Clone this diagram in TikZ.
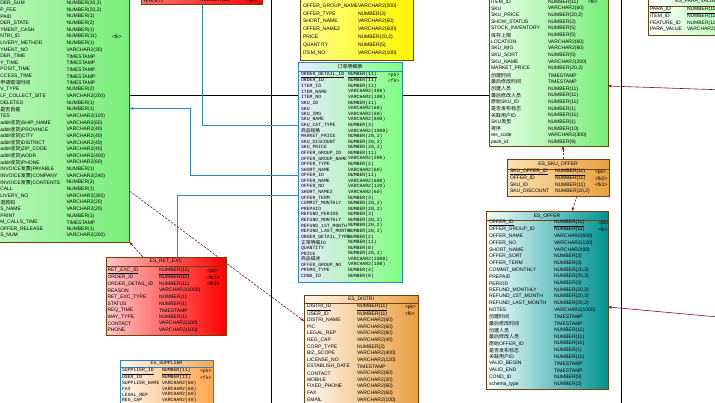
\documentclass[tikz,border=0pt]{standalone}
\usepackage{fontspec}
\setmainfont{Liberation Sans}
\newfontfamily\monofont{Liberation Mono}
\newfontfamily\cjk{Noto Sans CJK SC}
\usetikzlibrary{arrows.meta,calc}
\newcommand\zh[1]{{\cjk #1}}

\definecolor{brn}{HTML}{7A3E0A}
\definecolor{mag}{HTML}{80103F}
\definecolor{blu}{HTML}{2A86C8}
\definecolor{grnA}{HTML}{D4FAD4}
\definecolor{grnB}{HTML}{78EE78}
\definecolor{orA}{HTML}{FBE2B4}
\definecolor{orB}{HTML}{E8A040}

% rows of a table: prefix, style, x name, x type, y first row, row step, x key, list
\newcommand\tabrows[8]{%
  \foreach \nm/\ty/\ky [count=\i from 0] in {#8} {
    \node[#2] (#1-n\i) at (#3, {#5+\i*#6}) {\nm};
    \node[#2] (#1-t\i) at (#4, {#5+\i*#6}) {\ty};
    \node[#2] (#1-k\i) at (#7, {#5+\i*#6}) {\ky};
  }}

\tikzset{
  tbl/.style={rectangle, draw=brn, line width=0.8pt, inner sep=0pt, outer sep=0pt, anchor=north west, shading angle=45},
  btbl/.style={tbl, draw=blu},
  cell/.style={anchor=west, inner sep=0pt, outer sep=0pt, text=black, font=\fontsize{5}{5}\selectfont},
  mcell/.style={cell, font=\monofont\fontsize{4.8}{5}\selectfont},
  ttl/.style={cell, anchor=center},
  mttl/.style={mcell, anchor=center},
  sep/.style={draw=brn, line width=0.6pt},
  bsep/.style={draw=blu, line width=0.6pt},
  tip/.style={-{Stealth[length=4pt,width=3pt]}},
  fkline/.style={draw=mag, line width=0.6pt, dash pattern=on 2.5pt off 1.2pt, tip},
  mgline/.style={draw=mag, line width=0.6pt, tip},
  bl/.style={draw=blu, line width=0.7pt},
  blk/.style={draw=black, line width=0.7pt},
}

\begin{document}
\begin{tikzpicture}[x=1pt,y=-1pt]
\useasboundingbox (0,0) rectangle (715,402);
\clip (0,0) rectangle (715,402);
\fill[white] (0,0) rectangle (715,402);

% long vertical rules
\coordinate (va) at (271,-10);
\coordinate (vb) at (271,420);
\coordinate (vc) at (621.5,-10);
\coordinate (vd) at (621.5,420);
\draw[blk] (va) -- (vb);
\draw[blk] (vc) -- (vd);

% ---------------- order table (left) ----------------
\node[tbl, left color=grnA, right color=grnB, minimum width=189.5pt, minimum height=252pt] (order) at (-60,-10) {};
\tabrows{order}{cell}{0.3}{66.5}{3.3}{6.64}{112}{
 {DER\_SUM}/{NUMBER(20,2)}/{},
 {P\_FEE}/{NUMBER(20,2)}/{},
 {PAID}/{NUMBER(1)}/{},
 {DER\_STATE}/{NUMBER(2)}/{},
 {YMENT\_CASH}/{NUMBER(1)}/{},
 {NTRI\_ID}/{NUMBER(11)}/{<fk>},
 {LIVERY\_METHOD}/{NUMBER(1)}/{},
 {YMENT\_NO}/{VARCHAR2(30)}/{},
 {DER\_TIME}/{TIMESTAMP}/{},
 {Y\_TIME}/{TIMESTAMP}/{},
 {POSIT\_TIME}/{TIMESTAMP}/{},
 {CCESS\_TIME}/{TIMESTAMP}/{},
 {\zh{申请取消时间}}/{TIMESTAMP}/{},
 {V\_TYPE}/{NUMBER(2)}/{},
 {LF\_COLLECT\_SITE}/{VARCHAR2(200)}/{},
 {DELETED}/{NUMBER(1)}/{},
 {\zh{是否自提}}/{NUMBER(1)}/{},
 {TES}/{VARCHAR2(100)}/{},
 {addr\zh{收货})SHIP\_NAME}/{VARCHAR2(60)}/{},
 {addr\zh{收货})PROVINCE}/{VARCHAR2(40)}/{},
 {addr\zh{收货})CITY}/{VARCHAR2(40)}/{},
 {addr\zh{收货})DISTRICT}/{VARCHAR2(40)}/{},
 {addr\zh{收货})ZIP\_CODE}/{VARCHAR2(40)}/{},
 {addr\zh{收货})ADDR}/{VARCHAR2(400)}/{},
 {addr\zh{收货})PHONE}/{VARCHAR2(60)}/{},
 {INVOICE\zh{发票})PAYABLE}/{NUMBER(1)}/{},
 {INVOICE\zh{发票})COMPANY}/{VARCHAR2(240)}/{},
 {INVOICE\zh{发票})CONTENTS}/{NUMBER(2)}/{},
 {CALL}/{NUMBER(1)}/{},
 {LIVERY\_NO}/{VARCHAR2(300)}/{},
 {\zh{退款码}}/{VARCHAR2(20)}/{},
 {S\_NAME}/{VARCHAR2(20)}/{},
 {PRINT}/{NUMBER(1)}/{},
 {M\_CALLS\_TIME}/{TIMESTAMP}/{},
 {OFFER\_RELEASE}/{NUMBER(1)}/{},
 {S\_NUM}/{VARCHAR2(200)}/{}}

% ---------------- red table (top) ----------------
\node[tbl, left color=red!55, right color=red, minimum width=120.5pt, minimum height=24.5pt] (redtop) at (141.5,-20) {};
\tabrows{redtop}{cell}{143.5}{200}{0.3}{6.6}{247}{
 {\zh{在线支付}}/{NUMBER(11)}/{<fk>}}

% ---------------- yellow table (top) ----------------
\node[tbl, left color=yellow!45, right color=yellow!92!orange, minimum width=113pt, minimum height=80pt] (cart) at (300,-20) {};
\tabrows{cart}{cell}{303}{358}{6}{7.8}{400}{
 {OFFER\_GROUP\_NAME}/{VARCHAR2(200)}/{},
 {OFFER\_TYPE}/{NUMBER(2)}/{},
 {SHORT\_NAME}/{VARCHAR2(60)}/{},
 {OFFER\_NAME2}/{VARCHAR2(600)}/{},
 {PRICE}/{NUMBER(20,2)}/{},
 {QUANTITY}/{NUMBER(5)}/{},
 {ITEM\_NO}/{VARCHAR2(100)}/{}}

% ---------------- order detail table ----------------
\node[btbl, left color=blue!8!white, right color=green!50, minimum width=104.5pt, minimum height=220pt] (detail) at (298,62) {};
\node[ttl] (detail-title) at (350,66.8) {\zh{订单明细表}};
\draw[bsep] (detail.west |- 0,71.5) -- (detail.east |- 0,71.5);
\tabrows{detail}{mcell}{301}{348}{75}{5.58}{388}{
 {\underline{ORDER\_DETAIL\_ID}}/{\underline{NUMBER(11)}}/{<pk>},
 {ORDER\_ID}/{NUMBER(11)}/{<fk>},
 {ITEM\_ID}/{NUMBER(11)}/{},
 {ITEM\_NAME}/{VARCHAR2(400)}/{},
 {ITEM\_NO}/{VARCHAR2(100)}/{},
 {SKU\_ID}/{NUMBER(11)}/{},
 {SKU}/{VARCHAR2(60)}/{},
 {SKU\_IMG}/{VARCHAR2(60)}/{},
 {SKU\_NAME}/{VARCHAR2(800)}/{},
 {SKU\_CAT\_TYPE}/{NUMBER(3)}/{},
 {\zh{商品规格}}/{VARCHAR2(1000)}/{},
 {MARKET\_PRICE}/{NUMBER(20,2)}/{},
 {SKU\_DISCOUNT}/{NUMBER(20,2)}/{},
 {SKU\_PRICE}/{NUMBER(20,2)}/{},
 {OFFER\_GROUP\_ID}/{NUMBER(11)}/{},
 {OFFER\_GROUP\_NAME}/{VARCHAR2(200)}/{},
 {OFFER\_TYPE}/{NUMBER(2)}/{},
 {SHORT\_NAME}/{VARCHAR2(60)}/{},
 {OFFER\_ID}/{NUMBER(11)}/{},
 {OFFER\_NAME}/{VARCHAR2(600)}/{},
 {OFFER\_NO}/{VARCHAR2(120)}/{},
 {SHORT\_NAME2}/{VARCHAR2(60)}/{},
 {OFFER\_TERM}/{NUMBER(3)}/{},
 {COMMIT\_MONTHLY}/{NUMBER(20,2)}/{},
 {PREPAID}/{NUMBER(20,2)}/{},
 {REFUND\_PERIOD}/{NUMBER(3)}/{},
 {REFUND\_MONTHLY}/{NUMBER(20,2)}/{},
 {REFUND\_1ST\_MONTH}/{NUMBER(20,2)}/{},
 {REFUND\_LAST\_MONTH}/{NUMBER(20,2)}/{},
 {ORDER\_DETAIL\_TYPE}/{NUMBER(2)}/{},
 {\zh{正常明细}ID}/{NUMBER(11)}/{},
 {QUANTITY}/{NUMBER(8)}/{},
 {PRICE}/{NUMBER(20,2)}/{},
 {\zh{商品描述}}/{VARCHAR2(2000)}/{},
 {OFFER\_GROUP\_NO}/{VARCHAR2(100)}/{},
 {PROMO\_TYPE}/{NUMBER(4)}/{},
 {COND\_ID}/{NUMBER(8)}/{}}

% ---------------- SKU table ----------------
\node[tbl, left color=green!8, right color=grnB, minimum width=119pt, minimum height=166pt] (sku) at (489,-20) {};
\tabrows{sku}{cell}{491}{548}{2}{6.67}{588}{
 {ITEM\_ID}/{NUMBER(11)}/{<fk>},
 {SKU}/{VARCHAR2(60)}/{},
 {SKU\_PRICE}/{NUMBER(20,2)}/{},
 {SHOW\_STATUS}/{NUMBER(2)}/{},
 {STOCK\_INVENTORY}/{NUMBER(5)}/{},
 {\zh{库存上限}}/{NUMBER(5)}/{},
 {LOCATION}/{VARCHAR2(60)}/{},
 {SKU\_IMG}/{VARCHAR2(60)}/{},
 {SKU\_SORT}/{NUMBER(5)}/{},
 {SKU\_NAME}/{VARCHAR2(200)}/{},
 {MARKET\_PRICE}/{NUMBER(20,2)}/{},
 {\zh{创建时间}}/{TIMESTAMP}/{},
 {\zh{最后修改时间}}/{TIMESTAMP}/{},
 {\zh{创建人员}}/{NUMBER(11)}/{},
 {\zh{最后修改人员}}/{NUMBER(11)}/{},
 {\zh{原始}SKU\_ID}/{NUMBER(11)}/{},
 {\zh{是否发布标志}}/{NUMBER(1)}/{},
 {\zh{关联用户}ID}/{NUMBER(11)}/{},
 {SKU\zh{类型}}/{NUMBER(1)}/{},
 {\zh{排序}}/{NUMBER(10)}/{},
 {res\_code}/{VARCHAR2(300)}/{},
 {pack\_id}/{NUMBER(9)}/{}}

% ---------------- parameter value table (top right) ----------------
\node[tbl, left color=white, right color=green!40, minimum width=112pt, minimum height=39pt] (para) at (648,-4) {};
\node[ttl] (para-title) at (696,1.5) {ES\_PARA\_VALUE};
\draw[sep] (para.west |- 0,6.5) -- (para.east |- 0,6.5);
\tabrows{para}{cell}{650}{687}{10}{6.5}{730}{
 {\underline{PARA\_ID}}/{\underline{NUMBER(11)}}/{<pk>},
 {ITEM\_ID}/{NUMBER(11)}/{<fk1>},
 {FEATURE\_ID}/{NUMBER(11)}/{<fk2>},
 {PARA\_VALUE}/{VARCHAR2(200)}/{}}

% ---------------- ES_SKU_OFFER ----------------
\node[tbl, left color=orA, right color=orB, minimum width=102pt, minimum height=37pt] (skuoffer) at (507,159) {};
\node[ttl] (skuoffer-title) at (558,164) {ES\_SKU\_OFFER};
\draw[sep] (skuoffer.west |- 0,169) -- (skuoffer.east |- 0,169);
\tabrows{skuoffer}{cell}{510}{555}{172}{6.5}{595}{
 {\underline{SKU\_OFFER\_ID}}/{\underline{NUMBER(11)}}/{<pk>},
 {OFFER\_ID}/{NUMBER(11)}/{<fk2>},
 {SKU\_ID}/{NUMBER(11)}/{<fk1>},
 {SKU\_DISCOUNT}/{NUMBER(20,2)}/{}}

% ---------------- ES_OFFER ----------------
\node[tbl, left color=cyan!4, right color=teal!85!cyan, minimum width=122pt, minimum height=178pt] (offer) at (486,211) {};
\node[ttl] (offer-title) at (547,216) {ES\_OFFER};
\draw[sep] (offer.west |- 0,220.5) -- (offer.east |- 0,220.5);
\tabrows{offer}{cell}{489}{554}{223}{6.7}{598}{
 {\underline{OFFER\_ID}}/{\underline{NUMBER(11)}}/{<pk>},
 {OFFER\_GROUP\_ID}/{NUMBER(11)}/{<fk>},
 {OFFER\_NAME}/{VARCHAR2(600)}/{},
 {OFFER\_NO}/{VARCHAR2(120)}/{},
 {SHORT\_NAME}/{VARCHAR2(60)}/{},
 {OFFER\_SORT}/{NUMBER(3)}/{},
 {OFFER\_TERM}/{NUMBER(3)}/{},
 {COMMIT\_MONTHLY}/{NUMBER(20,2)}/{},
 {PREPAID}/{NUMBER(20,2)}/{},
 {PERIOD}/{NUMBER(3)}/{},
 {REFUND\_MONTHLY}/{NUMBER(20,2)}/{},
 {REFUND\_1ST\_MONTH}/{NUMBER(20,2)}/{},
 {REFUND\_LAST\_MONTH}/{NUMBER(20,2)}/{},
 {NOTES}/{VARCHAR2(1000)}/{},
 {\zh{创建时间}}/{TIMESTAMP}/{},
 {\zh{最后修改时间}}/{TIMESTAMP}/{},
 {\zh{创建人员}}/{NUMBER(11)}/{},
 {\zh{最后修改人员}}/{NUMBER(11)}/{},
 {\zh{原始}OFFER\_ID}/{NUMBER(11)}/{},
 {\zh{是否发布标志}}/{NUMBER(1)}/{},
 {\zh{关联用户}ID}/{NUMBER(11)}/{},
 {VALID\_BEGIN}/{TIMESTAMP}/{},
 {VALID\_END}/{TIMESTAMP}/{},
 {COND\_ID}/{NUMBER(9)}/{},
 {schema\_type}/{NUMBER(2)}/{}}

% ---------------- ES_RET_EXC ----------------
\node[tbl, left color=red!22, right color=red, minimum width=120pt, minimum height=78pt] (ret) at (106,257) {};
\node[ttl] (ret-title) at (166,261.5) {ES\_RET\_EXC};
\draw[sep] (ret.west |- 0,266) -- (ret.east |- 0,266);
\tabrows{ret}{cell}{107.5}{159}{271}{6.55}{207}{
 {\underline{RET\_EXC\_ID}}/{\underline{NUMBER(11)}}/{<pk>},
 {ORDER\_ID}/{NUMBER(11)}/{<fk1>},
 {ORDER\_DETAIL\_ID}/{NUMBER(11)}/{<fk2>},
 {REASON}/{VARCHAR2(1000)}/{},
 {RET\_EXC\_TYPE}/{NUMBER(1)}/{},
 {STATUS}/{NUMBER(1)}/{},
 {REQ\_TIME}/{TIMESTAMP}/{},
 {WAY\_TYPE}/{NUMBER(1)}/{},
 {CONTACT}/{VARCHAR2(100)}/{},
 {PHONE}/{VARCHAR2(100)}/{}}

% ---------------- ES_DISTRI ----------------
\node[tbl, left color=orange!5, right color=orB, minimum width=114pt, minimum height=125pt] (distri) at (304,295) {};
\node[ttl] (distri-title) at (361,299) {ES\_DISTRI};
\draw[sep] (distri.west |- 0,303.5) -- (distri.east |- 0,303.5);
\tabrows{distri}{cell}{307}{357}{307.3}{6.6}{405}{
 {\underline{DISTRI\_ID}}/{\underline{NUMBER(11)}}/{<pk>},
 {USER\_ID}/{NUMBER(11)}/{<fk>},
 {DISTRI\_NAME}/{VARCHAR2(60)}/{},
 {PIC}/{VARCHAR2(60)}/{},
 {LEGAL\_REP}/{VARCHAR2(60)}/{},
 {REG\_CAP}/{VARCHAR2(40)}/{},
 {CORP\_TYPE}/{NUMBER(2)}/{},
 {BIZ\_SCOPE}/{VARCHAR2(400)}/{},
 {LICENSE\_NO}/{VARCHAR2(120)}/{},
 {ESTABLISH\_DATE}/{TIMESTAMP}/{},
 {CONTACT}/{VARCHAR2(60)}/{},
 {MOBILE}/{VARCHAR2(20)}/{},
 {FIXED\_PHONE}/{VARCHAR2(60)}/{},
 {FAX}/{VARCHAR2(60)}/{},
 {EMAIL}/{VARCHAR2(100)}/{}}

% ---------------- ES_SUPPLIER ----------------
\node[btbl, left color=orange!6, right color=orange!70, minimum width=93pt, minimum height=60pt] (supplier) at (120,360) {};
\node[mttl] (supplier-title) at (166.5,363.5) {ES\_SUPPLIER};
\draw[bsep] (supplier.west |- 0,367) -- (supplier.east |- 0,367);
\tabrows{supplier}{mcell}{122}{162}{371.5}{5.8}{200}{
 {\underline{SUPPLIER\_ID}}/{\underline{NUMBER(11)}}/{<pk>},
 {USER\_ID}/{NUMBER(11)}/{<fk>},
 {SUPPLIER\_NAME}/{VARCHAR2(60)}/{},
 {FAX}/{VARCHAR2(60)}/{},
 {LEGAL\_REP}/{VARCHAR2(60)}/{},
 {REG\_CAP}/{VARCHAR2(40)}/{}}

% ---------------- references ----------------
% black link passing behind the detail table
\draw[blk] (order.east |- 0,95) -- (detail.west |- 0,95);
\draw[blk] (detail.east |- 0,95) -- (sku.west |- 0,95);

% blue references into the detail table
\draw[bl] (redtop.south -| 202,0) |- (detail.west |- 0,125.5);
\draw[bl, tip] (detail.west |- 0,175) -- (190,175) -- (190,108.5) -- (order.east |- 0,108.5);
\draw[bl] (ret.north -| 177,0) |- (detail.west |- 0,195.5);

% foreign keys
\draw[fkline] (order.east |- 0,191) -- (distri.west |- 0,321);
\draw[fkline] (ret.north -| 143,0) -- (order.south east);
\draw[fkline] (skuoffer.north -| 563,0) -- (sku.south -| 563,0);
\draw[fkline] (skuoffer.south -| 577,0) -- (offer.north -| 572,0);

\coordinate (paraLink) at (740,90.5);
\coordinate (offerLink) at (740,319);
\draw[mgline] (paraLink) -- (sku.east |- 0,86);
\draw[mgline] (offerLink) -- (offer.east |- 0,307);
\end{tikzpicture}
\end{document}
